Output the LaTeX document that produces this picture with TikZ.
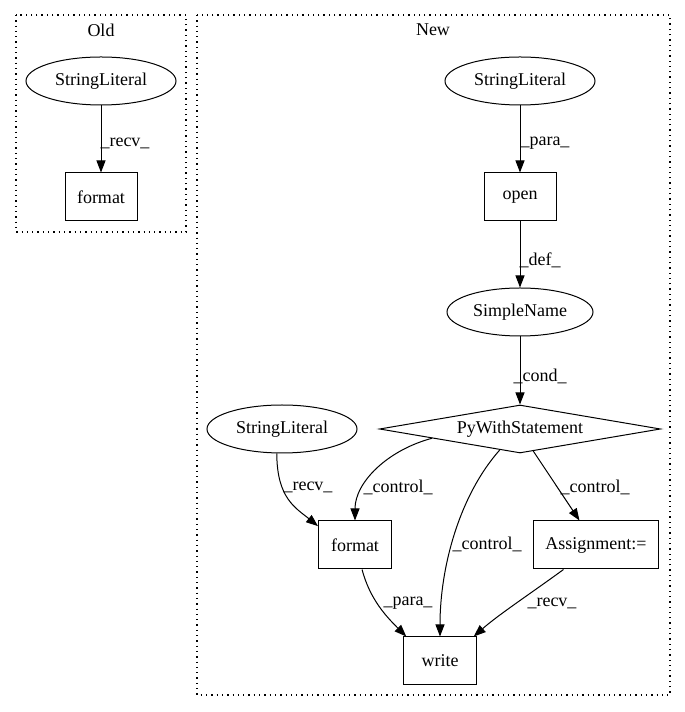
\documentclass[tikz,border=0pt]{standalone}
\usepackage{fontspec}
\setmainfont{Liberation Serif}
\usetikzlibrary{shapes.geometric,arrows.meta}
\begin{document}
\begin{tikzpicture}[x=1pt,y=1pt,
  every node/.style={font=\fontsize{18}{20}\selectfont},
  ell/.style={draw,ellipse,line width=1pt,minimum width=150pt,minimum height=48pt,inner sep=0pt},
  box/.style={draw,rectangle,line width=1pt,minimum height=48pt,inner sep=0pt},
  dia/.style={draw,diamond,line width=1pt,aspect=5.85,minimum width=281pt,minimum height=48pt,inner sep=0pt},
  edge/.style={line width=1pt,-{Triangle[length=12pt,width=9pt]}},
  clus/.style={line width=1.1pt,dash pattern=on 1.3pt off 4pt},
  lbl/.style={inner sep=0pt}]
\useasboundingbox (0,0) rectangle (685,712);
% clusters
\draw[clus] (16,697) rectangle (186,480);
\node (oldlbl) at (101,682) {Old};
\draw[clus] (197,697) rectangle (670,17);
\node (newlbl) at (433,682) {New};
% Old nodes
\node[ell] (oSL) at (101,631) {StringLiteral};
\node[box,minimum width=72pt] (oFmt) at (101,515) {format};
\draw[edge] (oSL) -- (oFmt);
\node[lbl] (l0) at (125,569) {\_recv\_};
% New nodes
\node[ell] (nSL1) at (520,631) {StringLiteral};
\node[box,minimum width=72pt] (open) at (520,515) {open};
\node[ell,minimum width=146pt] (sn) at (520,400) {SimpleName};
\node[dia] (pw) at (520,283) {PyWithStatement};
\node[ell] (nSL2) at (282,283) {StringLiteral};
\node[box,minimum width=73pt] (fmt) at (355,167) {format};
\node[box,minimum width=125pt] (asg) at (596,167) {Assignment:=};
\node[box,minimum width=73pt] (wr) at (440,51) {write};
% edges
\draw[edge] (nSL1) -- (open);
\node[lbl] (l1) at (545,569) {\_para\_};
\draw[edge] (open) -- (sn);
\node[lbl] (l2) at (540,452) {\_def\_};
\draw[edge] (sn) -- (pw);
\node[lbl] (l3) at (540,336) {\_cond\_};
\draw[edge] (nSL2.258) .. controls +(0,-45) and +(-22,18) .. (fmt.153);
\node[lbl] (l4) at (308,225) {\_recv\_};
\draw[edge] (pw.186) .. controls +(-45,-12) and +(0,38) .. (fmt.north);
\node[lbl] (l5) at (398,225) {\_control\_};
\draw[edge] (pw.226) .. controls +(-40,-45) and +(0,70) .. (wr.north);
\node[lbl] (l6) at (487,168) {\_control\_};
\draw[edge] (pw.-59) -- (asg.124);
\node[lbl] (l7) at (595,225) {\_control\_};
\draw[edge] (fmt.-74) .. controls +(8,-30) and +(-20,20) .. (wr.144);
\node[lbl] (l8) at (408,109) {\_para\_};
\draw[edge] (asg.217) .. controls +(-30,-22) and +(25,22) .. (wr.36);
\node[lbl] (l9) at (552,109) {\_recv\_};
\end{tikzpicture}
\end{document}
